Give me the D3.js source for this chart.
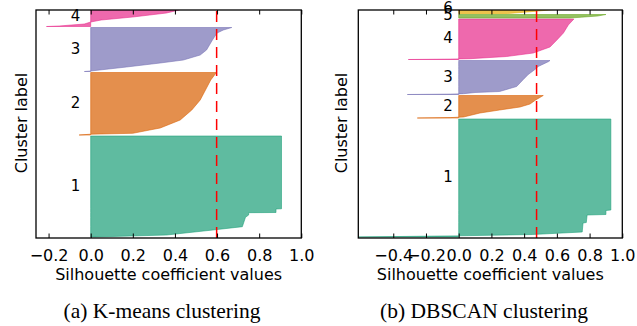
<!DOCTYPE html>
<meta charset="utf-8">
<style>
	body { margin: 0; background: #ffffff; }
	.frame { fill: none; stroke: #000000; stroke-width: 1.3; }
	.tick line { stroke: #000000; stroke-width: 1; }
	.tick text, .axis-label, .cluster-label {
		font-family: "DejaVu Sans", sans-serif;
		fill: #000000;
	}
	.tick text { font-size: 16px; }
	.axis-label { font-size: 16px; }
	.cluster-label { font-size: 15px; }
	.caption {
		font-family: "Liberation Serif", "Times New Roman", serif;
		font-size: 21.5px;
		text-anchor: middle;
	}
	.avg-line { stroke: #ff0000; stroke-width: 1.5; stroke-dasharray: 11,7; }
</style>

<svg id="chart" width="637" height="326"></svg>

<script src="https://d3js.org/d3.v7.min.js"></script>
<script>

	// ---- //
	// Data //
	// ---- //

	// cluster colours (Dark2, drawn at alpha 0.7)
	const clusterColors = ["#1b9e77", "#d95f02", "#7570b3", "#e7298a", "#66a61e", "#e6ab02"];

	// K-means: samples per cluster and the sorted silhouette profile [rank, value]
	const kmeansSizes = [1010, 625, 440, 190];
	const kmeansProfiles = [
		[[0, 0.02], [20, 0.36], [70, 0.58], [103, 0.72], [197, 0.735], [220, 0.75], [243, 0.75], [245, 0.88], [280, 0.88], [282, 0.906], [1010, 0.906]],
		[[0, -0.055], [8, 0.0], [17, 0.2], [50, 0.28], [70, 0.33], [150, 0.425], [250, 0.48], [350, 0.52], [550, 0.57], [625, 0.597]],
		[[0, -0.03], [5, 0.0], [45, 0.17], [85, 0.33], [115, 0.44], [165, 0.52], [215, 0.55], [315, 0.578], [385, 0.6], [415, 0.63], [440, 0.67]],
		[[0, -0.21], [5, -0.15], [25, -0.03], [45, 0.0], [65, 0.05], [95, 0.2], [135, 0.36], [165, 0.42], [190, 0.45]]
	];
	const kmeansAvg = 0.598;
	const kmeansTicks = [-0.2, 0.0, 0.2, 0.4, 0.6, 0.8, 1.0];

	// DBSCAN
	const dbscanSizes = [1180, 225, 340, 405, 35, 100];
	const dbscanProfiles = [
		[[0, -0.61], [12, 0.0], [25, 0.45], [50, 0.755], [140, 0.76], [145, 0.78], [220, 0.785], [225, 0.9], [265, 0.9], [270, 0.93], [1180, 0.93]],
		[[0, -0.253], [4, -0.05], [8, 0.0], [10, 0.03], [50, 0.13], [80, 0.25], [110, 0.375], [140, 0.436], [180, 0.47], [225, 0.517]],
		[[0, -0.314], [4, -0.05], [8, 0.03], [20, 0.1], [30, 0.25], [80, 0.354], [150, 0.395], [200, 0.425], [250, 0.466], [280, 0.486], [330, 0.55], [340, 0.558]],
		[[0, -0.308], [4, -0.05], [6, 0.0], [8, 0.07], [30, 0.293], [65, 0.456], [95, 0.507], [125, 0.558], [195, 0.6], [265, 0.64], [345, 0.67], [405, 0.704]],
		[[0, 0.68], [8, 0.75], [20, 0.85], [35, 0.9]],
		[[0, 0.3], [15, 0.42], [45, 0.62], [100, 0.7]]
	];
	const dbscanAvg = 0.476;
	const dbscanTicks = [-0.4, -0.2, 0.0, 0.2, 0.4, 0.6, 0.8, 1.0];

	const yLimit = 2280;
	const gap = 10;

	// ----- //
	// Setup //
	// ----- //

	let svg = d3.select("#chart");
	let plotTop = 10, plotBottom = 238;
	let fmt = d3.format(".1f");

	function silhouettePanel(opts) {
		let x = d3.scaleLinear().domain(opts.domain).range([opts.left, opts.right]);
		let y = d3.scaleLinear().domain([0, yLimit]).range([plotBottom, plotTop]);

		let g = svg.append("g");

		// clip to axes box
		g.append("clipPath")
			.attr("id", opts.id + "-clip")
			.append("rect")
				.attr("x", opts.left)
				.attr("y", plotTop)
				.attr("width", opts.right - opts.left)
				.attr("height", plotBottom - plotTop);

		let plot = g.append("g").attr("clip-path", "url(#" + opts.id + "-clip)");

		// silhouette areas, stacked bottom to top like matplotlib
		let yLower = 10;
		let labelPos = [];
		opts.sizes.forEach((size, i) => {
			let base = yLower;
			let area = d3.area()
				.x0(x(0))
				.x1(d => x(d[1]))
				.y(d => y(base + d[0]));
			plot.append("path")
				.datum(opts.profiles[i])
				.attr("d", area)
				.attr("fill", clusterColors[i])
				.attr("fill-opacity", 0.7)
				.attr("stroke", clusterColors[i])
				.attr("stroke-opacity", 0.7)
				.attr("stroke-width", 0.8);
			labelPos.push(base + size / 2);
			yLower = base + size + gap;
		});

		// average silhouette line
		plot.append("line")
			.attr("class", "avg-line")
			.attr("x1", x(opts.avg)).attr("x2", x(opts.avg))
			.attr("y1", plotBottom).attr("y2", plotTop);

		// cluster number labels (not clipped)
		g.selectAll(".cluster-label")
			.data(labelPos)
			.enter().append("text")
				.attr("class", "cluster-label")
				.attr("x", x(-0.1) + 1)
				.attr("y", d => y(d) - 1)
				.attr("dominant-baseline", "central")
				.text((d, i) => i + 1);

		// axes: inward ticks top and bottom
		let xAxis = d3.axisBottom(x).tickValues(opts.ticks).tickFormat(fmt)
			.tickSizeInner(-4.5).tickSizeOuter(0).tickPadding(11.5);
		g.append("g")
			.attr("transform", "translate(0," + plotBottom + ")")
			.call(xAxis)
			.call(a => a.select(".domain").remove())
			.call(a => a.selectAll("text").attr("fill", "#000").attr("font-family", null).attr("font-size", null));

		let xAxisTop = d3.axisTop(x).tickValues(opts.ticks).tickFormat("")
			.tickSizeInner(-4.5).tickSizeOuter(0);
		g.append("g")
			.attr("transform", "translate(0," + plotTop + ")")
			.call(xAxisTop)
			.call(a => a.select(".domain").remove());

		g.append("rect")
			.attr("class", "frame")
			.attr("x", opts.left).attr("y", plotTop)
			.attr("width", opts.right - opts.left)
			.attr("height", plotBottom - plotTop);

		// X LABEL
		g.append("text")
			.attr("class", "axis-label")
			.attr("x", (opts.left + opts.right) / 2)
			.attr("y", 280)
			.style("text-anchor", "middle")
			.text("Silhouette coefficient values");

		// Y LABEL
		g.append("text")
			.attr("class", "axis-label")
			.attr("transform", "translate(" + opts.ylabelX + ",123) rotate(-90)")
			.style("text-anchor", "middle")
			.text("Cluster label");

		// CAPTION
		g.append("text")
			.attr("class", "caption")
			.attr("x", opts.captionX)
			.attr("y", 318)
			.text(opts.caption);
	}

	silhouettePanel({
		id: "kmeans", left: 36, right: 301.3, domain: [-0.2597, 1.0],
		sizes: kmeansSizes, profiles: kmeansProfiles, avg: kmeansAvg, ticks: kmeansTicks,
		ylabelX: 27, captionX: 162, caption: "(a) K-means clustering"
	});

	silhouettePanel({
		id: "dbscan", left: 358.3, right: 622.3, domain: [-0.6137, 1.0],
		sizes: dbscanSizes, profiles: dbscanProfiles, avg: dbscanAvg, ticks: dbscanTicks,
		ylabelX: 347, captionX: 484, caption: "(b) DBSCAN clustering"
	});

</script>
